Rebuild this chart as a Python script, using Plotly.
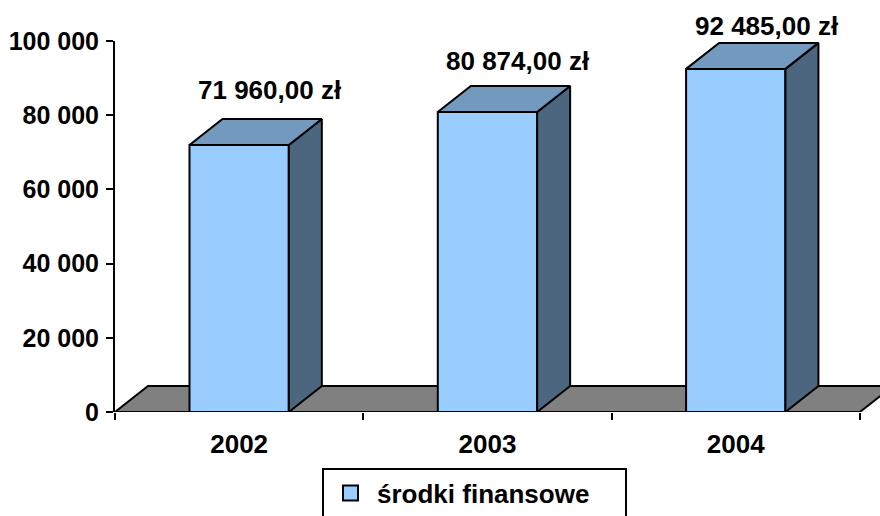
import plotly.graph_objects as go

# ---- data ----
years = ["2002", "2003", "2004"]
values = [71960.00, 80874.00, 92485.00]
series_name = "środki finansowe"
y_tickvals = [0, 20000, 40000, 60000, 80000, 100000]
y_ticktext = ["0", "20 000", "40 000", "60 000", "80 000", "100 000"]

# ---- style / geometry ----
FONT = "Liberation Sans, Arial, sans-serif"
FRONT = "#99CCFF"
TOP = "#7399BF"
SIDE = "#4D6680"
FLOOR = "#808080"
BAR_W = 0.4
DEPTH_X = 0.133          # depth offset in category units
DEPTH_Y = 7000           # depth offset in value units
label_yshift = [55, 51, 43]

def fmt_pln(v):
    s = f"{v:,.2f}".replace(",", " ").replace(".", ",")
    return s + " zł"

xs = list(range(len(years)))
fig = go.Figure()

# 3D side and top faces
for i, v in enumerate(values):
    l, r = xs[i] - BAR_W / 2, xs[i] + BAR_W / 2
    fig.add_trace(go.Scatter(
        x=[r, r + DEPTH_X, r + DEPTH_X, r, r],
        y=[0, DEPTH_Y, v + DEPTH_Y, v, 0],
        fill="toself", fillcolor=SIDE, mode="lines",
        line=dict(color="black", width=2), showlegend=False, hoverinfo="skip"))
    fig.add_trace(go.Scatter(
        x=[l, r, r + DEPTH_X, l + DEPTH_X, l],
        y=[v, v, v + DEPTH_Y, v + DEPTH_Y, v],
        fill="toself", fillcolor=TOP, mode="lines",
        line=dict(color="black", width=2), showlegend=False, hoverinfo="skip"))

# front faces
fig.add_trace(go.Bar(
    x=xs, y=values, width=BAR_W, name=series_name, showlegend=False,
    marker=dict(color=FRONT, line=dict(color="black", width=2)),
    hoverinfo="skip"))

# legend entry (square swatch like the original)
fig.add_trace(go.Scatter(
    x=[None], y=[None], mode="markers", name=series_name,
    marker=dict(symbol="square", size=15, color=FRONT,
                line=dict(color="black", width=2))))

# floor
x0, x1 = -0.5, len(years) - 0.5
fig.add_shape(
    type="path", xref="x", yref="y", layer="below",
    path=(f"M {x0},0 L {x1},0 L {x1 + DEPTH_X},{DEPTH_Y} "
          f"L {x0 + DEPTH_X},{DEPTH_Y} Z"),
    fillcolor=FLOOR, line=dict(color="black", width=2))

# value labels
for i, v in enumerate(values):
    fig.add_annotation(
        x=xs[i], y=v, text=fmt_pln(v), showarrow=False,
        xshift=31, yshift=label_yshift[i], yanchor="middle",
        font=dict(family=FONT, size=26, color="black", weight="bold"))

fig.update_layout(
    width=880, height=516,
    margin=dict(l=115, r=0, t=41, b=104, autoexpand=False),
    paper_bgcolor="white", plot_bgcolor="white",
    showlegend=True,
    legend=dict(
        orientation="h", x=0.2706, y=-0.15, xanchor="left", yanchor="top",
        bordercolor="black", borderwidth=2, bgcolor="white",
        entrywidth=243, itemwidth=43,
        font=dict(family=FONT, size=26, color="black", weight="bold")),
    xaxis=dict(
        range=[-0.5, -0.5 + 765 / 248.3],
        tickvals=xs, ticktext=years, ticks="",
        showline=False, showgrid=False, zeroline=False,
        ticklabelstandoff=14,
        tickfont=dict(family=FONT, size=26, color="black", weight="bold"),
        minor=dict(tickvals=[-0.5, 0.5, 1.5, 2.5], ticks="outside",
                   ticklen=7, tickwidth=2, tickcolor="black", showgrid=False)),
    yaxis=dict(
        range=[0, 100000], tickvals=y_tickvals, ticktext=y_ticktext,
        showline=True, linecolor="black", linewidth=2,
        ticks="outside", ticklen=7, tickwidth=2, tickcolor="black",
        showgrid=False, zeroline=False, ticklabelstandoff=2,
        tickfont=dict(family=FONT, size=25, color="black", weight="bold")),
)

fig.write_html(
    "out.html",
    config={"displayModeBar": False, "staticPlot": True},
    post_script="document.body.style.margin='0';document.body.style.overflow='hidden';")
